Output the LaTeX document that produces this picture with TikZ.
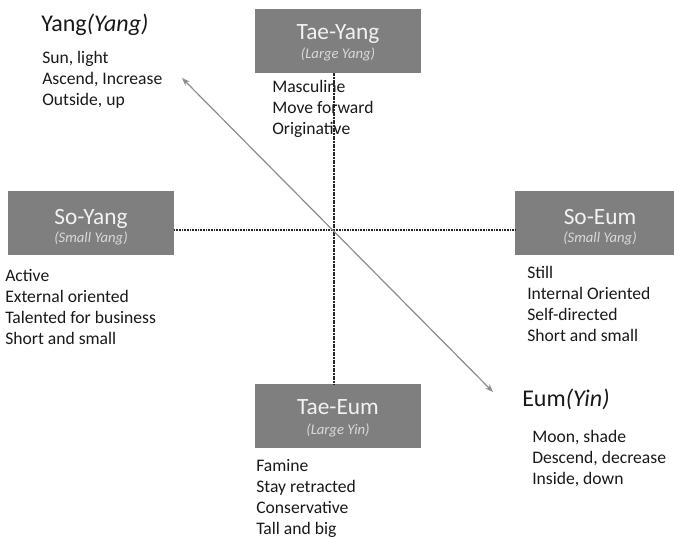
\documentclass[tikz,border=0pt]{standalone}
\usepackage{fontspec}
\setmainfont{Carlito}
\usetikzlibrary{arrows.meta}
\definecolor{boxgray}{HTML}{7F7F7F}
\definecolor{subgray}{HTML}{D9D9D9}
\begin{document}
\begin{tikzpicture}[x=0.75pt,y=-0.75pt,
 box/.style={fill=boxgray, minimum width=124.5pt, minimum height=48pt, inner sep=0pt, outer sep=0pt},
 btitle/.style={text=white!95!black, font=\fontsize{17.5}{19}\selectfont, anchor=base, inner sep=0pt},
 bsub/.style={text=subgray, font=\fontsize{11}{12}\selectfont\itshape, anchor=base, inner sep=0pt},
 list/.style={anchor=base west, align=left, inner sep=0pt, font=\fontsize{13.2}{15.75}\selectfont, text=black!90},
 head/.style={anchor=base west, inner sep=0pt, font=\fontsize{18}{20}\selectfont, text=black!90},
 dots/.style={line width=1pt, dash pattern=on 0.8pt off 0.4pt, black!85},
 arr/.style={draw=black!45, line width=0.9pt, {Stealth[length=6pt,width=4.5pt]}-{Stealth[length=6pt,width=4.5pt]}}]
\useasboundingbox (0,0) rectangle (674,538);
% boxes
\node[box] (ty) at (338,41.5) {};
\node[box] (sy) at (91,223) {};
\node[box] (se) at (598,223) {};
\node[box] (te) at (338,416) {};
% centre of the axes
\coordinate (c) at (334,230);
% dotted axes
\draw[dots] (ty.south -| c) -- (te.north -| c);
\draw[dots] (sy.east |- c) -- (se.west |- c);
% diagonal arrow
\coordinate (ya) at (182,78);
\coordinate (ea) at (493,392);
\draw[arr] (ya) -- (ea);
% box titles
\node[btitle] (tyt) at (338,40) {Tae-Yang};
\node[bsub] (tys) at (338,59) {(Large Yang)};
\node[btitle] (syt) at (91,224) {So-Yang};
\node[bsub] (sys) at (91,243) {(Small Yang)};
\node[btitle] (set) at (600,224) {So-Eum};
\node[bsub] (ses) at (600,243) {(Small Yang)};
\node[btitle] (tet) at (338,414) {Tae-Eum};
\node[bsub] (tes) at (338,434) {(Large Yin)};
% headings
\node[head] (yang) at (41,32) {Yang\textit{(Yang)}};
\node[head] (eum) at (522,406) {Eum\textit{(Yin)}};
% lists (anchored at the baseline of their last line)
\node[list] (yangl) at (42,106) {Sun, light\\Ascend, Increase\\Outside, up};
\node[list] (tyl) at (272,135) {Masculine\\Move forward\\Originative};
\node[list] (syl) at (5,344) {Active\\External oriented\\Talented for business\\Short and small};
\node[list] (sel) at (527,341) {Still\\Internal Oriented\\Self-directed\\Short and small};
\node[list] (tel) at (256,534) {Famine\\Stay retracted\\Conservative\\Tall and big};
\node[list] (euml) at (532,484) {Moon, shade\\Descend, decrease\\Inside, down};
\end{tikzpicture}
\end{document}
